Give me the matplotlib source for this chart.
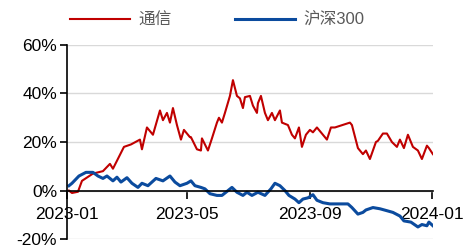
import pandas as pd
import matplotlib.pyplot as plt
import matplotlib.dates as mdates
from matplotlib.ticker import FuncFormatter

# 通信 industry index, cumulative return (%)
telecom_dates = [
    "2023-01-03", "2023-01-06", "2023-01-12", "2023-01-16", "2023-01-27", "2023-02-06",
    "2023-02-13", "2023-02-16", "2023-02-27", "2023-03-06", "2023-03-15", "2023-03-17",
    "2023-03-22", "2023-03-28", "2023-04-04", "2023-04-07", "2023-04-11", "2023-04-14",
    "2023-04-17", "2023-04-21", "2023-04-25", "2023-04-28", "2023-05-04", "2023-05-05",
    "2023-05-11", "2023-05-15", "2023-05-16", "2023-05-22", "2023-05-26", "2023-05-31",
    "2023-06-02", "2023-06-05", "2023-06-08", "2023-06-13", "2023-06-16", "2023-06-20",
    "2023-06-23", "2023-06-26", "2023-06-28", "2023-07-03", "2023-07-06", "2023-07-10",
    "2023-07-11", "2023-07-14", "2023-07-18", "2023-07-21", "2023-07-25", "2023-07-28",
    "2023-08-02", "2023-08-04", "2023-08-10", "2023-08-14", "2023-08-17", "2023-08-21",
    "2023-08-24", "2023-08-28", "2023-09-01", "2023-09-04", "2023-09-08", "2023-09-14",
    "2023-09-18", "2023-09-22", "2023-09-26", "2023-10-11", "2023-10-13", "2023-10-19",
    "2023-10-24", "2023-10-27", "2023-10-31", "2023-11-06", "2023-11-08", "2023-11-13",
    "2023-11-17", "2023-11-22", "2023-11-27", "2023-11-30", "2023-12-04", "2023-12-08",
    "2023-12-13", "2023-12-18", "2023-12-22", "2023-12-27", "2023-12-29", "2024-01-02",
]
telecom = [
    0, -1, -0.5, 4, 7, 8,
    11, 9, 18, 19, 21, 17,
    26, 23, 33, 29, 32, 28,
    34, 27, 21, 25, 22, 22,
    17, 16.5, 21.5, 16.5, 21.5, 28,
    30, 28, 32, 39, 45.5, 39,
    38, 34, 38.5, 39, 35, 32,
    36, 39, 32, 29, 32, 29,
    33, 28, 27, 23, 21.5, 26,
    18, 23, 25, 24, 26, 23,
    21, 26, 26, 28, 27, 17.5,
    15, 16.5, 13, 20, 20.5, 23.5,
    23.5, 20, 18, 21, 17.5, 23,
    18, 16.5, 13, 18.5, 17.5, 15,
]

# 沪深300 index, cumulative return (%)
csi300_dates = [
    "2023-01-03", "2023-01-06", "2023-01-13", "2023-01-20", "2023-01-27", "2023-02-01",
    "2023-02-06", "2023-02-10", "2023-02-16", "2023-02-20", "2023-02-24", "2023-03-02",
    "2023-03-07", "2023-03-13", "2023-03-17", "2023-03-23", "2023-03-31", "2023-04-07",
    "2023-04-14", "2023-04-19", "2023-04-24", "2023-05-01", "2023-05-05", "2023-05-09",
    "2023-05-15", "2023-05-19", "2023-05-24", "2023-05-31", "2023-06-05", "2023-06-09",
    "2023-06-15", "2023-06-20", "2023-06-26", "2023-06-30", "2023-07-05", "2023-07-11",
    "2023-07-18", "2023-07-24", "2023-07-28", "2023-08-02", "2023-08-07", "2023-08-11",
    "2023-08-17", "2023-08-21", "2023-08-25", "2023-08-30", "2023-09-04", "2023-09-08",
    "2023-09-14", "2023-09-21", "2023-09-28", "2023-10-09", "2023-10-13", "2023-10-19",
    "2023-10-24", "2023-10-27", "2023-11-03", "2023-11-10", "2023-11-17", "2023-11-23",
    "2023-11-30", "2023-12-04", "2023-12-11", "2023-12-18", "2023-12-22", "2023-12-27",
    "2023-12-29", "2024-01-02",
]
csi300 = [
    2, 3, 6, 7.5, 7.5, 6,
    5, 6, 4, 5.5, 3.5, 5.3,
    3, 1.3, 3, 2, 5, 4,
    6, 3.5, 2, 3, 4, 2,
    1.3, 0.7, -1.3, -2, -2, -0.7,
    1.3, -0.7, -2, -0.7, -2, -0.7,
    -2, 0.7, 3, 2, 0, -2,
    -3.5, -5, -3.5, -3, -1.7, -4,
    -5, -5.5, -5.5, -5.5, -7, -9.7,
    -9, -8, -7, -7.5, -8.3, -9,
    -10.5, -12.5, -13, -15, -14, -14.5,
    -13, -14.5,
]

y_ticks = [-20, 0, 20, 40, 60]
x_ticks = ["2023-01-01", "2023-05-01", "2023-09-01", "2024-01-01"]

plt.rcParams["font.family"] = ["Liberation Sans", "Noto Sans CJK SC", "DejaVu Sans"]

fig = plt.figure(figsize=(4.65, 2.47), dpi=100)
ax = fig.add_axes([0.144, 0.032, 0.787, 0.786])

ax.plot(pd.to_datetime(telecom_dates), telecom, color="#C00000", lw=1.5, label="通信")
ax.plot(pd.to_datetime(csi300_dates), csi300, color="#0B4B9E", lw=2.2, label="沪深300")

ax.set_ylim(-20, 60)
ax.set_yticks(y_ticks)
ax.yaxis.set_major_formatter(FuncFormatter(lambda v, p: f"{v:.0f}%"))
ax.set_xlim(pd.Timestamp("2023-01-01"), pd.Timestamp("2024-01-02"))
ax.set_xticks(pd.to_datetime(x_ticks))
ax.xaxis.set_major_formatter(mdates.DateFormatter("%Y-%m"))

# horizontal grid, the 0% line acts as the x axis
ax.grid(axis="y", color="#D9D9D9", lw=1)
ax.set_axisbelow(True)
for s in ["top", "right"]:
    ax.spines[s].set_visible(False)
ax.spines["bottom"].set_position(("data", 0))
ax.spines["bottom"].set_linewidth(1.2)
ax.spines["left"].set_linewidth(1.2)
ax.tick_params(axis="y", direction="out", length=5, width=1.2, labelsize=12.5, pad=2)
ax.tick_params(axis="x", direction="out", length=6, width=1.2, labelsize=12.5, pad=6)

leg = ax.legend(loc="lower center", bbox_to_anchor=(0.41, 1.01), ncol=2, frameon=False,
                fontsize=12, handlelength=3.6, columnspacing=3.8, handletextpad=0.5)
for t in leg.get_texts():
    t.set_color("#595959")

fig.savefig("out.png", dpi=100)
